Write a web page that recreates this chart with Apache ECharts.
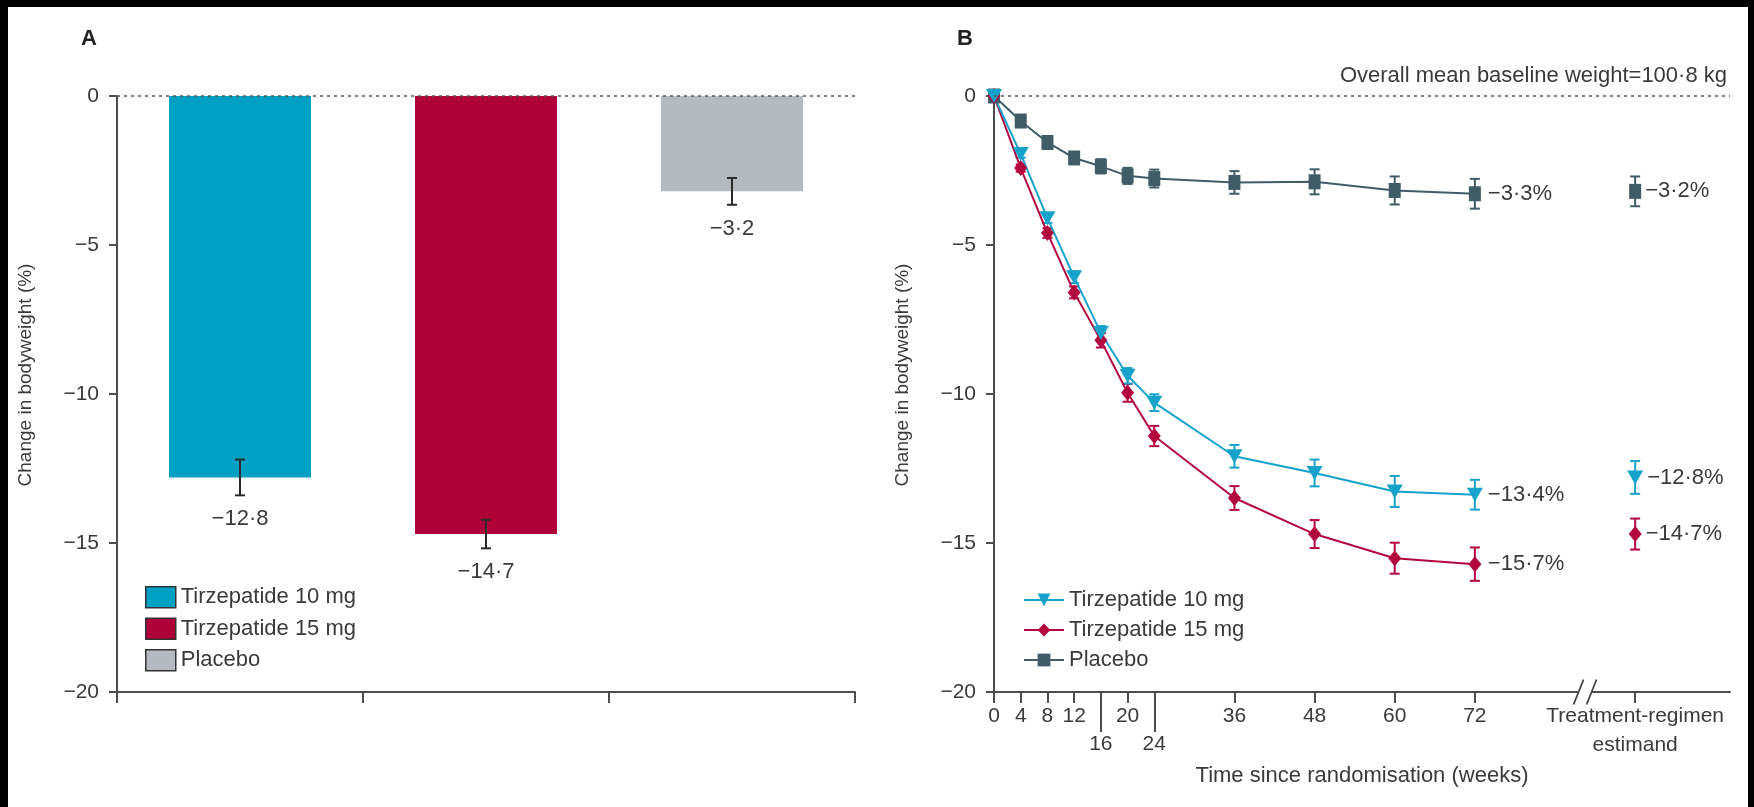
<!DOCTYPE html>
<html>
<head>
<meta charset="utf-8">
<script src="https://cdn.jsdelivr.net/npm/echarts@6/dist/echarts.min.js"></script>
<style>
html, body { margin: 0; padding: 0; background: #fff; }
#chart { width: 1754px; height: 807px; }
</style>
</head>
<body>
<div id="chart"></div>
<script>
// A: mean change at 72 weeks (efficacy estimand)
const groups = ['Tirzepatide 10 mg', 'Tirzepatide 15 mg', 'Placebo']
const barValues = [-12.8, -14.7, -3.2]
const barErr = [0.6, 0.48, 0.45]

// B: change over time
const weeks = [0, 4, 8, 12, 16, 20, 24, 36, 48, 60, 72]
const tirz10 = [0, -1.95, -4.1, -6.08, -7.95, -9.39, -10.29, -12.09, -12.65, -13.27, -13.38]
const tirz15 = [0, -2.42, -4.6, -6.59, -8.2, -9.96, -11.41, -13.49, -14.7, -15.51, -15.71]
const placebo = [0, -0.84, -1.56, -2.08, -2.36, -2.68, -2.77, -2.9, -2.88, -3.17, -3.28]
const tirz10Err = [0, 0.12, 0.16, 0.2, 0.23, 0.26, 0.28, 0.38, 0.45, 0.52, 0.5]
const tirz15Err = [0, 0.12, 0.16, 0.2, 0.24, 0.3, 0.34, 0.4, 0.47, 0.52, 0.56]
const placeboErr = [0, 0.15, 0.18, 0.2, 0.24, 0.27, 0.3, 0.38, 0.42, 0.47, 0.5]

// treatment-regimen estimand
const estimandWeek = 96
const estimand = [-12.8, -14.7, -3.2]
const estimandErr = [0.55, 0.52, 0.5]

const mainTicks = [0, 4, 8, 12, 20, 36, 48, 60, 72, 96]
const lowTicks = [16, 24]
const breakWeek = 88.5
const yTicks = { min: -20, max: 0, step: 5 }

const FONT = 'Liberation Sans, Arial, sans-serif'
const TXT = '#3a3a3a'
const AX = '#4d4d4d'
const barColors = ['#009fc4', '#ae0039', '#b4bac0']
const lineColors = ['#16a2ca', '#b3073f', '#3f5c67']
const symbols = ['path://M0,0 L10,0 L5,8.5 Z', 'diamond', 'rect']
const symbolSizes = [[16, 14], [13, 16], [12, 15]]

const fmt = v => (v < 0 ? '\u2212' : '') + Math.abs(v).toFixed(1).replace('.', '\u00b7')
const yFmt = v => v < 0 ? '\u2212' + Math.abs(v) : String(v)

const chart = echarts.init(document.getElementById('chart'))

function errRender(color, withLabel) {
    return function (params, api) {
        const x = api.value(0), y = api.value(1), e = api.value(2)
        const top = api.coord([x, y + e])
        const bot = api.coord([x, y - e])
        const w = 5
        const st = { stroke: color, lineWidth: 2 }
        const children = [
            { type: 'line', shape: { x1: top[0], y1: top[1], x2: bot[0], y2: bot[1] }, style: st },
            { type: 'line', shape: { x1: top[0] - w, y1: top[1], x2: top[0] + w, y2: top[1] }, style: st },
            { type: 'line', shape: { x1: bot[0] - w, y1: bot[1], x2: bot[0] + w, y2: bot[1] }, style: st }
        ]
        if (withLabel) {
            children.push({
                type: 'text',
                style: {
                    text: fmt(y), x: bot[0], y: bot[1] + 13, align: 'center', verticalAlign: 'top',
                    fontSize: 22, fontFamily: FONT, fill: TXT
                }
            })
        }
        return { type: 'group', children: children }
    }
}

const yAxisBase = (gridIndex) => ({
    type: 'value', gridIndex: gridIndex, min: yTicks.min, max: yTicks.max, interval: yTicks.step,
    name: 'Change in bodyweight (%)', nameLocation: 'middle', nameGap: 82,
    nameTextStyle: { fontSize: 19, fontFamily: FONT, color: TXT, padding: [0, 0, 0, 38] },
    axisLine: { show: true, onZero: false, lineStyle: { color: AX, width: 2 } },
    axisTick: { show: true, length: 8, lineStyle: { color: AX, width: 2 } },
    axisLabel: { fontSize: 21, fontFamily: FONT, color: TXT, margin: 18, formatter: yFmt },
    splitLine: { show: false }
})

const series = []

// 柱状图 A
groups.forEach((g, i) => {
    series.push({
        name: g, type: 'bar', xAxisIndex: 0, yAxisIndex: 0,
        data: groups.map((x, j) => j === i ? barValues[i] : '-'),
        barWidth: 142, barGap: '-100%',
        itemStyle: { color: barColors[i] },
        z: 2,
        markLine: i === 0 ? {
            silent: true, symbol: ['none', 'none'], label: { show: false },
            lineStyle: { type: [3, 4], color: '#555', width: 1.6 },
            data: [{ yAxis: 0 }]
        } : undefined
    })
})
series.push({
    type: 'custom', xAxisIndex: 0, yAxisIndex: 0, z: 5,
    renderItem: errRender('#2b2b2b', true),
    data: groups.map((g, i) => [i, barValues[i], barErr[i]])
})

// 折线图 B
const lineData = [tirz10, tirz15, placebo]
const lineErr = [tirz10Err, tirz15Err, placeboErr]
const drawOrder = [2, 1, 0]
drawOrder.forEach(i => {
    series.push({
        name: 'B|' + groups[i], type: 'line', xAxisIndex: 1, yAxisIndex: 1,
        data: weeks.map((w, k) => [w, lineData[i][k]]),
        symbol: symbols[i], symbolSize: symbolSizes[i],
        lineStyle: { color: lineColors[i], width: 2 },
        itemStyle: { color: lineColors[i] },
        z: 4,
        endLabel: {
            show: true, distance: 13, fontSize: 22, fontFamily: FONT, color: TXT,
            formatter: p => fmt(p.value[1]) + '%'
        },
        markLine: i === 2 ? {
            silent: true, symbol: ['none', 'none'], label: { show: false },
            lineStyle: { type: [3, 4], color: '#555', width: 1.6 },
            data: [{ yAxis: 0 }]
        } : undefined
    })
    series.push({
        type: 'custom', xAxisIndex: 1, yAxisIndex: 1, z: 3,
        renderItem: errRender(lineColors[i], false),
        data: weeks.map((w, k) => [w, lineData[i][k], lineErr[i][k]])
            .concat([[estimandWeek, estimand[i], estimandErr[i]]])
    })
    series.push({
        name: 'est|' + groups[i], type: 'scatter', xAxisIndex: 1, yAxisIndex: 1, z: 4,
        data: [[estimandWeek, estimand[i]]],
        symbol: symbols[i], symbolSize: symbolSizes[i],
        itemStyle: { color: lineColors[i], opacity: 1 },
        label: {
            show: true, position: 'right', distance: 4, fontSize: 22, fontFamily: FONT, color: TXT,
            formatter: p => fmt(p.value[1]) + '%'
        }
    })
})

// 坐标轴断开标记
series.push({
    type: 'custom', xAxisIndex: 1, yAxisIndex: 1, z: 6, silent: true,
    data: [[breakWeek, yTicks.min]],
    renderItem: function (params, api) {
        const p = api.coord([api.value(0), api.value(1)])
        const dx = 6.5, h = 12.5, s = 10
        const st = { stroke: '#444', lineWidth: 1.8 }
        return {
            type: 'group', children: [
                { type: 'polygon', shape: { points: [[p[0] - dx - s / 2, p[1] + h], [p[0] - dx + s / 2, p[1] - h], [p[0] + dx + s / 2, p[1] - h], [p[0] + dx - s / 2, p[1] + h]] }, style: { fill: '#fff' } },
                { type: 'line', shape: { x1: p[0] - dx - s / 2, y1: p[1] + h, x2: p[0] - dx + s / 2, y2: p[1] - h }, style: st },
                { type: 'line', shape: { x1: p[0] + dx - s / 2, y1: p[1] + h, x2: p[0] + dx + s / 2, y2: p[1] - h }, style: st }
            ]
        }
    }
})

const option = {
    backgroundColor: '#fff',
    animation: false,
    textStyle: { fontFamily: FONT },
    title: [
        { text: 'A', left: 76, top: 23, textStyle: { fontSize: 22, fontWeight: 'bold', color: '#222', fontFamily: FONT } },
        { text: 'B', left: 952, top: 23, textStyle: { fontSize: 22, fontWeight: 'bold', color: '#222', fontFamily: FONT } },
        { text: 'Overall mean baseline weight=100\u00b78 kg', right: 22, top: 60, textStyle: { fontSize: 22, fontWeight: 'normal', color: TXT, fontFamily: FONT } }
    ],
    grid: [
        { left: 117, right: 899, top: 96, bottom: 115 },
        { left: 994, right: 24, top: 96, bottom: 115 }
    ],
    legend: [
        {
            data: groups, orient: 'vertical', left: 140, top: 581, icon: 'rect',
            itemWidth: 30, itemHeight: 21, itemGap: 9,
            itemStyle: { borderColor: '#333', borderWidth: 1.5 },
            textStyle: { fontSize: 22, fontFamily: FONT, color: TXT }
        },
        {
            data: groups.map(g => 'B|' + g), orient: 'vertical', left: 1018, top: 584,
            itemWidth: 40, itemHeight: 16, itemGap: 8,
            formatter: n => n.split('|')[1],
            textStyle: { fontSize: 22, fontFamily: FONT, color: TXT }
        }
    ],
    xAxis: [
        {
            type: 'category', gridIndex: 0, data: groups,
            axisLine: { onZero: false, lineStyle: { color: AX, width: 2 } },
            axisTick: { show: true, length: 11, lineStyle: { color: AX, width: 2 } },
            axisLabel: { show: false }, splitLine: { show: false }
        },
        {
            type: 'value', gridIndex: 1, min: 0, max: 110.2, position: 'bottom',
            name: 'Time since randomisation (weeks)', nameLocation: 'middle', nameGap: 73,
            nameTextStyle: { fontSize: 22, fontFamily: FONT, color: TXT },
            axisLine: { onZero: false, lineStyle: { color: AX, width: 2 } },
            axisTick: { show: true, length: 11, customValues: mainTicks, lineStyle: { color: AX, width: 2 } },
            axisLabel: {
                customValues: mainTicks, fontSize: 21, fontFamily: FONT, color: TXT, margin: 10, lineHeight: 29,
                formatter: v => v === estimandWeek ? 'Treatment-regimen\nestimand' : String(v)
            },
            splitLine: { show: false }
        },
        {
            type: 'value', gridIndex: 1, min: 0, max: 110.2, position: 'bottom',
            axisLine: { show: false, onZero: false },
            axisTick: { show: true, length: 40, customValues: lowTicks, lineStyle: { color: AX, width: 2 } },
            axisLabel: { customValues: lowTicks, fontSize: 21, fontFamily: FONT, color: TXT, margin: 38, lineHeight: 29 },
            splitLine: { show: false }
        }
    ],
    yAxis: [yAxisBase(0), yAxisBase(1)],
    graphic: [
        { type: 'rect', shape: { x: 0, y: 0, width: 1754, height: 7 }, style: { fill: '#000' }, z: 100 },
        { type: 'rect', shape: { x: 0, y: 0, width: 8, height: 807 }, style: { fill: '#000' }, z: 100 },
        { type: 'rect', shape: { x: 1748, y: 0, width: 6, height: 807 }, style: { fill: '#000' }, z: 100 }
    ],
    series: series
}

chart.setOption(option)
</script>
</body>
</html>
